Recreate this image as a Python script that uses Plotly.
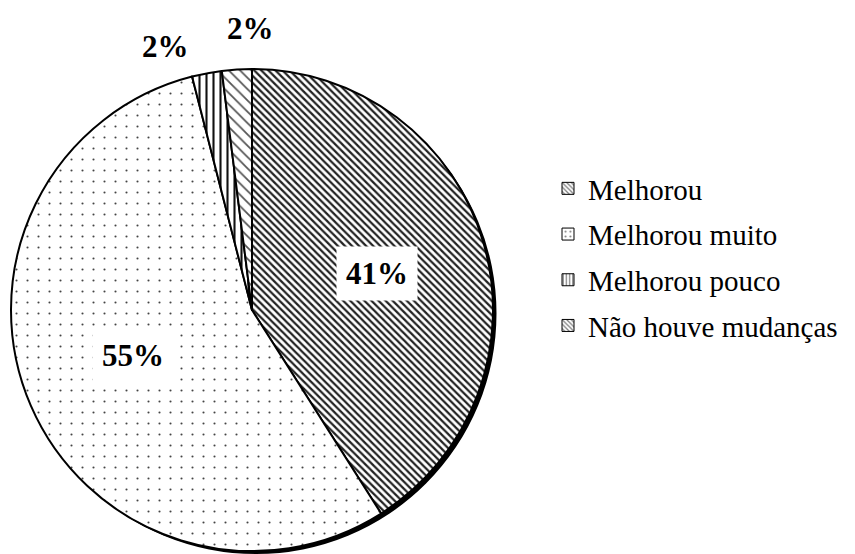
import math
import plotly.graph_objects as go

categories = ["Melhorou", "Melhorou muito", "Melhorou pouco", "Não houve mudanças"]
values = [41, 55, 2, 2]
label_texts = ["41%", "55%", "2%", "2%"]

W, H = 855, 554
CX, CY, R = 252, 310, 241  # pie centre / radius in px
SERIF = "Liberation Serif"

shapes = ["\\", ".", "|", "\\"]
sizes = [5, 11, 7, 8]
solid = [0.45, 0.03, 0.3, 0.22]
fgc = ["#222", "#444", "#111", "#555"]

dom_x = [(CX - R) / W, (CX + R) / W]
dom_y = [(H - (CY + R)) / H, (H - (CY - R)) / H]
off = 4
sdom_x = [(CX - R + off) / W, (CX + R + off) / W]
sdom_y = [max(0.0, (H - (CY + R + off)) / H), (H - (CY - R + off)) / H]

fig = go.Figure()
# shadow disc
fig.add_trace(go.Pie(values=[1], marker=dict(colors=["black"], line=dict(width=0)),
                     textinfo="none", hoverinfo="skip", showlegend=False, sort=False,
                     domain=dict(x=sdom_x, y=sdom_y)))
fig.add_trace(go.Pie(
    labels=categories, values=values, sort=False, direction="clockwise", rotation=0,
    textinfo="none", showlegend=False,
    marker=dict(colors=["white"] * 4,
                line=dict(color="black", width=2),
                pattern=dict(shape=shapes, size=sizes, solidity=solid,
                             fgcolor=fgc, bgcolor="white", fillmode="replace")),
    domain=dict(x=dom_x, y=dom_y)))

# legend entries (patterned squares)
for i, c in enumerate(categories):
    fig.add_trace(go.Bar(x=[None], y=[None], name=c, legendgroup=c,
                         marker=dict(color="white", line=dict(color="black", width=1),
                                     pattern=dict(shape=shapes[i], size=4 if i != 1 else 6,
                                                  solidity=0.4 if i != 1 else 0.15,
                                                  fgcolor="black", bgcolor="white"))))

# percentage labels
total = sum(values)
radfrac = [0.54, 0.53, 1.15, 1.17]
angoff = [0, 2.5, -7.4, 3.3]
cum = 0
annots = []
for i, v in enumerate(values):
    mid = (cum + v / 2) / total * 360 + angoff[i]
    cum += v
    rr = radfrac[i] * R
    px = CX + rr * math.sin(math.radians(mid))
    py = CY - rr * math.cos(math.radians(mid))
    inside = radfrac[i] < 1
    annots.append(dict(x=px / W, y=1 - py / H, xref="paper", yref="paper",
                       xanchor="center", yanchor="middle",
                       text="<b>" + label_texts[i] + "</b>", showarrow=False,
                       font=dict(family=SERIF, size=31, color="black"),
                       bgcolor="white" if inside else "rgba(0,0,0,0)",
                       borderpad=9 if inside else 0))

fig.update_layout(
    width=W, height=H, margin=dict(l=0, r=0, t=0, b=0),
    paper_bgcolor="white", plot_bgcolor="white",
    xaxis=dict(visible=False), yaxis=dict(visible=False),
    annotations=annots,
    legend=dict(x=548 / W, y=1 - 163 / H, xanchor="left", yanchor="top",
                font=dict(family=SERIF, size=29, color="black"),
                tracegroupgap=5, itemclick=False, bgcolor="rgba(0,0,0,0)"),
    font=dict(family=SERIF),
)

fig.write_html("out.html")
